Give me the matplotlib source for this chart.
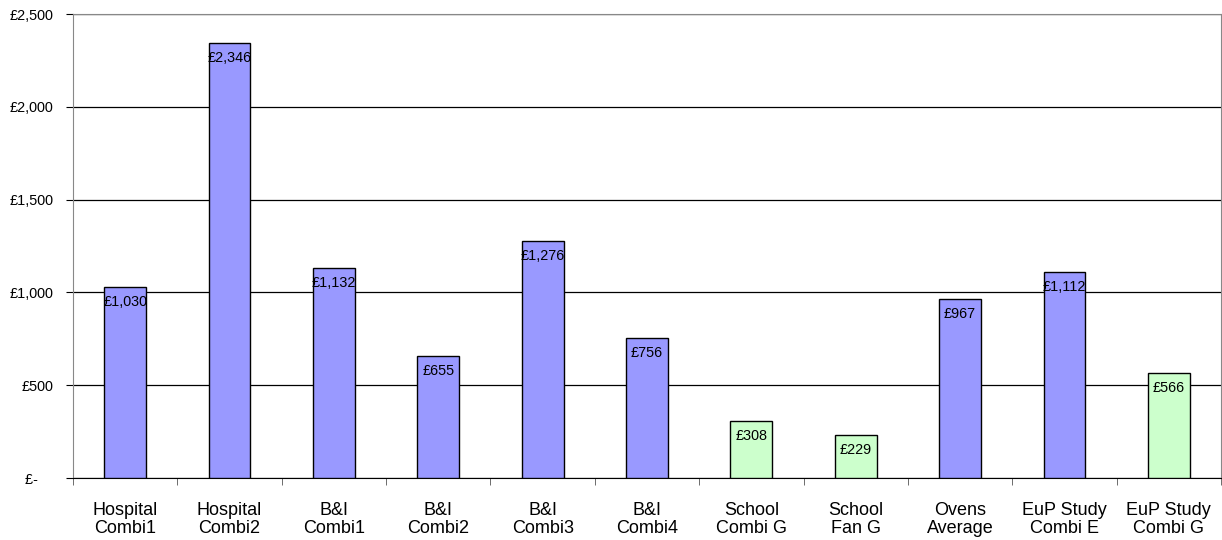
import numpy as np
import matplotlib.pyplot as plt
from matplotlib.ticker import FuncFormatter

categories = ['Hospital\nCombi1', 'Hospital\nCombi2', 'B&I\nCombi1', 'B&I\nCombi2',
              'B&I\nCombi3', 'B&I\nCombi4', 'School\nCombi G', 'School\nFan G',
              'Ovens\nAverage', 'EuP Study\nCombi E', 'EuP Study\nCombi G']
values = [1030, 2346, 1132, 655, 1276, 756, 308, 229, 967, 1112, 566]
is_gas = [False, False, False, False, False, False, True, True, False, False, True]

blue = '#9999FF'
green = '#CCFFCC'

plt.rcParams['font.family'] = ['Liberation Sans', 'DejaVu Sans']

fig = plt.figure(figsize=(12.22, 5.4), dpi=100)
ax = fig.add_axes([73 / 1222, 62 / 540, 1148 / 1222, 464 / 540])

x = np.arange(len(values))
colors = [green if g else blue for g in is_gas]
bars = ax.bar(x, values, width=0.4, color=colors, edgecolor='black', linewidth=1, zorder=3)

for b, v in zip(bars, values):
    ax.annotate('£{:,}'.format(v), (b.get_x() + b.get_width() / 2, v),
                xytext=(0, -15), textcoords='offset pixels',
                ha='center', va='center', fontsize=10.4, zorder=4)


def money(v, pos):
    # accounting style: zero shown as a dash, padded like the other labels
    if v == 0:
        return '£-    '
    return '£{:,.0f}'.format(v)


ax.set_xlim(-0.5, len(values) - 0.5)
ax.set_ylim(0, 2500)
ax.set_yticks(np.arange(0, 2501, 500))
ax.yaxis.set_major_formatter(FuncFormatter(money))
ax.yaxis.grid(True, color='black', linewidth=0.9, zorder=0)

# category labels between boundary ticks
ax.set_xticks(x)
ax.set_xticklabels(categories, fontsize=13, linespacing=1.12)
ax.tick_params(axis='x', length=0, pad=17)
ax.set_xticks(np.arange(-0.5, len(values)), minor=True)
ax.tick_params(axis='x', which='minor', length=5, color='#555555', direction='out')
ax.tick_params(axis='y', length=5, labelsize=10.4, pad=9, direction='out', color='black')

for s in ['left', 'right', 'top']:
    ax.spines[s].set_color('#888888')
ax.spines['bottom'].set_color('black')

plt.savefig('out.png', dpi=100)
